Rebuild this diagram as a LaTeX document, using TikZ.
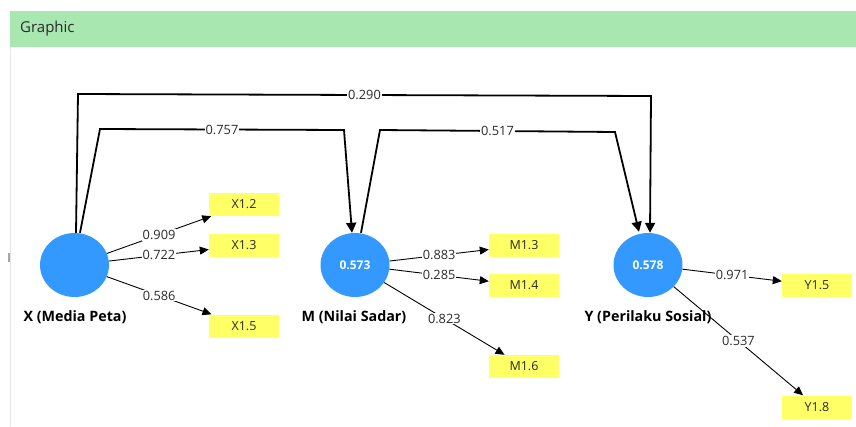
\documentclass[tikz,border=0pt]{standalone}
\usepackage{fontspec}
\setmainfont{Open Sans}
\usetikzlibrary{shapes.geometric,arrows.meta}
\definecolor{hdr}{HTML}{A8E8B0}
\definecolor{lv}{HTML}{3399FF}
\definecolor{ind}{HTML}{FFFF66}
\definecolor{txt}{HTML}{2A2A2A}
\tikzset{
  latent/.style={ellipse,fill=lv,draw=none,minimum width=69pt,minimum height=64pt,inner sep=0pt,text=white,font=\bfseries\fontsize{12}{14}\selectfont},
  indic/.style={rectangle,fill=ind,draw=none,minimum width=70pt,minimum height=23pt,inner sep=0pt,text=txt,font=\fontsize{12.5}{14}\selectfont},
  lvname/.style={font=\bfseries\fontsize{14.3}{16}\selectfont,text=black,inner sep=0pt},
  lab/.style={fill=white,inner sep=1pt,text=txt,font=\fontsize{12.8}{14}\selectfont},
  load/.style={draw=black,line width=0.9pt,-{Triangle[length=9pt,width=8pt]}},
  struct/.style={draw=black,line width=1.8pt,-{Triangle[length=10pt,width=10pt]}},
}
\begin{document}
\begin{tikzpicture}[x=1pt,y=-1pt]
\useasboundingbox (0,0) rectangle (856,426);
% header
\fill[hdr] (10,11) rectangle (856,47);
\node[anchor=west,inner sep=0pt,text=txt,font=\fontsize{15}{17}\selectfont] (title) at (20,29) {Graphic};
\draw[black!10,line width=1pt] (10,47) -- (10,426);
\draw[black!35,line width=1.5pt] (9,253) -- (9,262);
% latent variables
\node[latent] (X) at (74.5,265) {};
\node[latent] (M) at (355,265) {0.573};
\node[latent] (Y) at (648,265) {0.578};
\node[lvname] (Xl) at (75,317) {X (Media Peta)};
\node[lvname] (Ml) at (354,317) {M (Nilai Sadar)};
\node[lvname] (Yl) at (648,317) {Y (Perilaku Sosial)};
% indicators
\node[indic] (X12) at (244,204.5) {X1.2};
\node[indic] (X13) at (244,245.5) {X1.3};
\node[indic] (X15) at (244,326) {X1.5};
\node[indic] (M13) at (524,245.5) {M1.3};
\node[indic] (M14) at (524,285.5) {M1.4};
\node[indic] (M16) at (524,366.5) {M1.6};
\node[indic] (Y15) at (817,285.5) {Y1.5};
\node[indic] (Y18) at (817,407) {Y1.8};
% loadings
\draw[load] (X) -- node[lab]{0.909} (X12);
\draw[load] (X) -- node[lab]{0.722} (X13);
\draw[load] (X) -- node[lab]{0.586} (X15);
\draw[load] (M) -- node[lab]{0.883} (M13);
\draw[load] (M) -- node[lab]{0.285} (M14);
\draw[load] (M) -- node[lab]{0.823} (M16);
\draw[load] (Y) -- node[lab]{0.971} (Y15);
\draw[load] (Y) -- node[lab]{0.537} (Y18);
% structural paths
\coordinate (a1) at (78,94);
\coordinate (a2) at (651,96);
\coordinate (b1) at (100,129);
\coordinate (b2) at (344,130);
\coordinate (c1) at (380,130);
\coordinate (c2) at (615,132);
\draw[struct,line join=miter] ([xshift=1.5pt]X.north) -- (a1) -- node[lab]{0.290} (a2) -- ([xshift=2pt]Y.north);
\draw[struct,line join=miter] ([xshift=5.5pt]X.north) -- (b1) -- node[lab]{0.757} (b2) -- ([xshift=-3pt]M.north);
\draw[struct,line join=miter] ([xshift=6pt]M.north) -- (c1) -- node[lab]{0.517} (c2) -- ([xshift=-9pt,yshift=1pt]Y.north);
\end{tikzpicture}
\end{document}
